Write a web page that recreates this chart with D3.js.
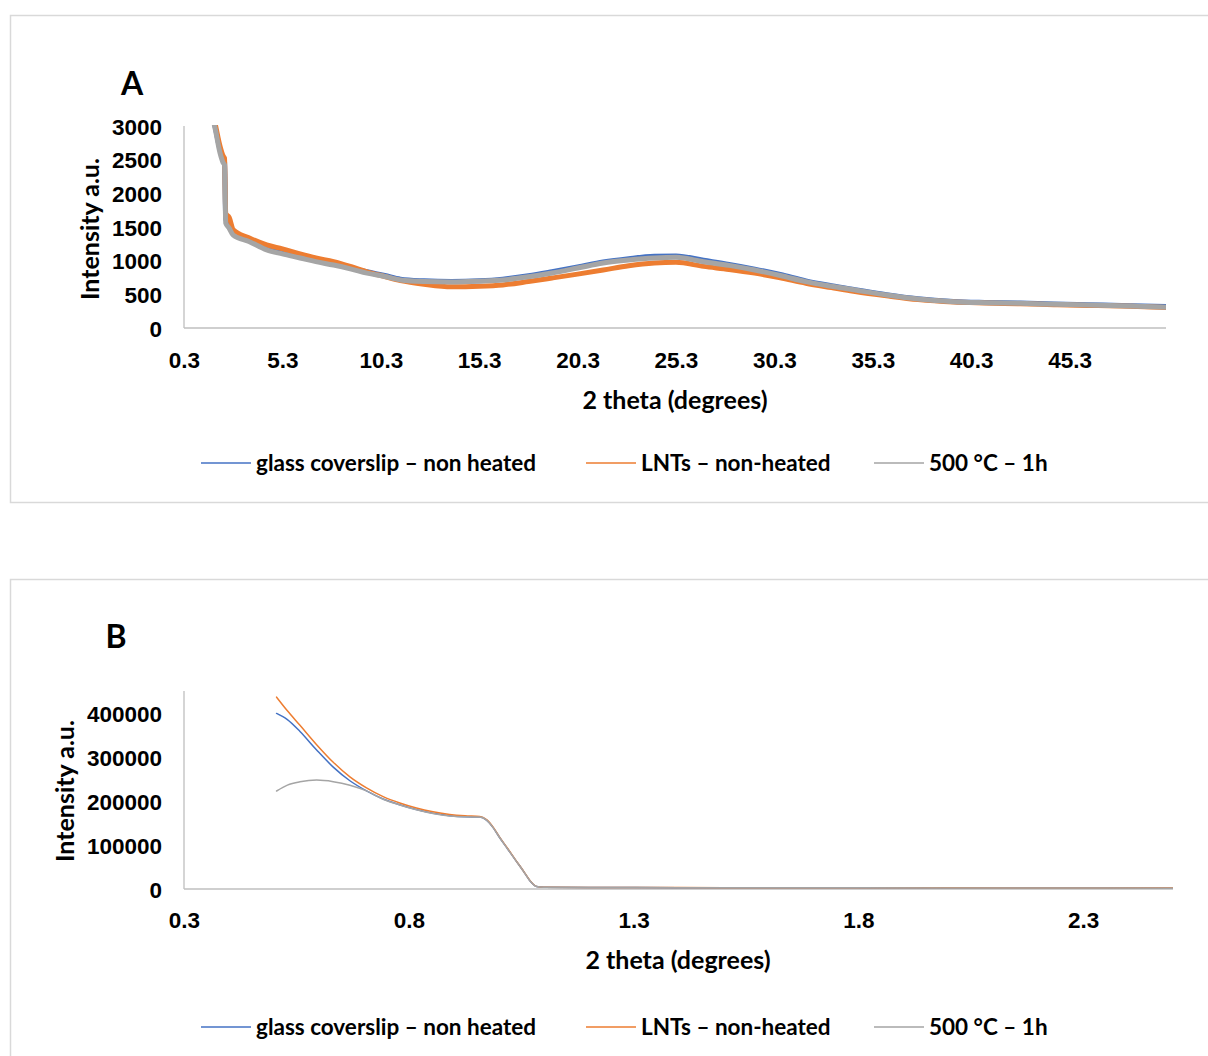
<!DOCTYPE html>
<html>
<head>
<meta charset="utf-8">
<script src="https://cdn.jsdelivr.net/npm/d3@7"></script>
<style>
  html, body { margin: 0; padding: 0; background: #fff; }
  svg { display: block; font-family: Lato, "Open Sans", sans-serif; font-weight: 700; }
</style>
</head>
<body>
<svg id="chart" width="1208" height="1056"></svg>
<script>
// ---- series shared by both panels ----
const seriesNames = ["glass coverslip \u2013 non heated", "LNTs \u2013 non-heated", "500 \u00B0C \u2013 1h"];
const seriesColors = ["#4472C4", "#ED7D31", "#A5A5A5"];

// ---- Panel A: wide-angle scan ----
const thetaA = [0.3, 1.5, 1.87, 2.13, 2.28, 2.36, 2.42, 2.6, 2.8, 3.6, 4.5, 5.3, 6.2, 7.0, 7.9, 8.8, 9.6, 10.5, 11.3,
  12.5, 13.9, 15.3, 16.5, 17.8, 19.0, 20.3, 21.6, 22.9, 24.2, 25.3, 26.7, 28.0, 29.3, 30.6, 31.9, 33.2, 34.4,
  36.0, 37.6, 39.4, 41.0, 42.8, 44.5, 46.2, 48.4, 50.2];
const glassA = [3800, 3400, 3000, 2650, 2520, 2470, 1620, 1540, 1420, 1320, 1200, 1130, 1060, 1010, 950, 890, 835, 780, 725,
  700, 690, 700, 725, 775, 835, 905, 980, 1030, 1065, 1070, 1005, 945, 875, 795, 700, 628, 570,
  495, 435, 395, 380, 370, 358, 346, 332, 318];
const lntA = [3800, 3450, 3050, 2700, 2560, 2520, 1700, 1640, 1460, 1340, 1235, 1175, 1100, 1040, 985, 910, 835, 765, 705,
  650, 612, 620, 640, 690, 742, 800, 861, 925, 965, 975, 915, 870, 815, 745, 665, 600, 542,
  478, 422, 386, 372, 360, 347, 336, 322, 305];
const heatedA = [3800, 3380, 2980, 2600, 2460, 2420, 1560, 1480, 1380, 1285, 1160, 1100, 1040, 985, 935, 875, 815, 765, 713,
  690, 683, 695, 713, 760, 817, 890, 965, 1010, 1040, 1050, 985, 930, 861, 780, 688, 620, 564,
  490, 430, 391, 376, 366, 352, 341, 326, 310];
const xTicksA = [0.3, 5.3, 10.3, 15.3, 20.3, 25.3, 30.3, 35.3, 40.3, 45.3];
const yTicksA = [0, 500, 1000, 1500, 2000, 2500, 3000];

// ---- Panel B: low-angle scan ----
const thetaB = [0.506, 0.53, 0.558, 0.595, 0.632, 0.669, 0.706, 0.743, 0.78, 0.817, 0.854, 0.891, 0.925, 0.958, 0.973,
  0.988, 1.002, 1.02, 1.039, 1.055, 1.069, 1.084, 1.1, 1.2, 1.4, 1.6, 1.8, 2.0, 2.2, 2.5];
const glassB = [399000, 385000, 358000, 316000, 277000, 246000, 223000, 204500, 191500, 180500, 172000, 166500, 164000, 163500, 156500,
  139000, 117000, 91000, 63500, 40500, 19500, 5800, 3900, 3400, 3100, 2900, 2700, 2500, 2300, 1900];
const lntB = [436000, 405000, 372000, 328000, 288000, 255000, 230000, 210000, 195500, 184000, 175500, 169500, 166500, 165000, 157500,
  140000, 118000, 92000, 64000, 41000, 20000, 6000, 4000, 3500, 3200, 3000, 2800, 2600, 2400, 2000];
const heatedB = [222700, 236000, 243500, 247500, 244000, 236000, 223000, 204000, 191000, 180000, 171500, 166000, 164000, 163500, 156500,
  139000, 117000, 91000, 63500, 40500, 19500, 5800, 3900, 3400, 3100, 2900, 2700, 2500, 2300, 1900];
const xTicksB = [0.3, 0.8, 1.3, 1.8, 2.3];
const yTicksB = [0, 100000, 200000, 300000, 400000];

const svg = d3.select("#chart");
const LABEL_SIZE = 22.5;
const TITLE_SIZE = 25;

function drawPanel(cfg) {
  const g = svg.append("g");

  // chart-area frame
  g.append("rect")
    .attr("x", 10.5).attr("y", cfg.frameTop + 0.5)
    .attr("width", 1230).attr("height", cfg.frameBottom - cfg.frameTop)
    .attr("fill", "none").attr("stroke", "#D9D9D9").attr("stroke-width", 1.5);

  const x = d3.scaleLinear().domain(cfg.xDomain).range([cfg.left, cfg.right]);
  const y = d3.scaleLinear().domain(cfg.yDomain).range([cfg.bottom, cfg.top]);

  // panel letter
  g.append("text").attr("x", cfg.letterX).attr("y", cfg.letterY)
    .attr("text-anchor", "middle").attr("font-size", 32).attr("fill", "#000")
    .text(cfg.letter);

  // y tick labels
  const yAxis = d3.axisLeft(y).tickValues(cfg.yTicks).tickSize(0).tickPadding(0).tickFormat(d3.format("d"));
  const ya = g.append("g").attr("transform", `translate(${cfg.yLabelX},0)`).call(yAxis);
  ya.select(".domain").remove();
  ya.selectAll("text").attr("font-size", LABEL_SIZE).attr("font-family", null).attr("fill", "#000").attr("dy", "0.36em");

  // x tick labels
  const xAxis = d3.axisBottom(x).tickValues(cfg.xTicks).tickSize(0).tickPadding(0).tickFormat(d3.format(".1f"));
  const xa = g.append("g").attr("transform", `translate(0,${cfg.xLabelY})`).call(xAxis);
  xa.select(".domain").remove();
  xa.selectAll("text").attr("font-size", LABEL_SIZE).attr("font-family", null).attr("fill", "#000").attr("dy", "0.36em").attr("y", 0);

  // axis lines
  g.append("line").attr("x1", cfg.left).attr("x2", cfg.left).attr("y1", cfg.top).attr("y2", cfg.bottom)
    .attr("stroke", "#BFBFBF").attr("stroke-width", 1.3);
  g.append("line").attr("x1", cfg.left).attr("x2", cfg.right).attr("y1", cfg.bottom).attr("y2", cfg.bottom)
    .attr("stroke", "#BFBFBF").attr("stroke-width", 1.3);

  // axis titles
  g.append("text").attr("transform", `translate(${cfg.yTitleX},${(cfg.top + cfg.bottom) / 2 + cfg.yTitleShift}) rotate(-90)`)
    .attr("text-anchor", "middle").attr("dy", "0.36em").attr("font-size", TITLE_SIZE).attr("fill", "#000")
    .text("Intensity a.u.");
  g.append("text").attr("x", cfg.xTitleX).attr("y", cfg.xTitleY)
    .attr("text-anchor", "middle").attr("dy", "0.36em").attr("font-size", TITLE_SIZE).attr("fill", "#000")
    .text("2 theta (degrees)");

  // data lines, clipped to the plot area
  const clipId = "clip" + cfg.letter;
  g.append("clipPath").attr("id", clipId).append("rect")
    .attr("x", cfg.left).attr("y", cfg.top - 1)
    .attr("width", cfg.right - cfg.left).attr("height", cfg.bottom - cfg.top + 2);

  const line = d3.line().x(d => x(d[0])).y(d => y(d[1])).curve(d3.curveMonotoneX);
  const plot = g.append("g").attr("clip-path", `url(#${clipId})`);
  cfg.series.forEach((vals, i) => {
    const pts = cfg.theta.map((t, k) => [t, vals[k]]);
    plot.append("path").attr("d", line(pts))
      .attr("fill", "none").attr("stroke", seriesColors[i])
      .attr("stroke-width", cfg.strokes[i])
      .attr("stroke-linejoin", "round").attr("stroke-linecap", "round");
  });

  // legend
  const lg = g.append("g").attr("transform", `translate(0,${cfg.legendY})`);
  const legendStarts = [201, 586, 874];
  seriesNames.forEach((name, i) => {
    const x0 = legendStarts[i];
    lg.append("line").attr("x1", x0).attr("x2", x0 + 50).attr("y1", 0).attr("y2", 0)
      .attr("stroke", seriesColors[i]).attr("stroke-width", 1.5);
    lg.append("text").attr("x", x0 + 55).attr("y", 0).attr("dy", "0.36em")
      .attr("font-size", LABEL_SIZE).attr("fill", "#000").text(name);
  });
}

drawPanel({
  letter: "A", letterX: 132, letterY: 95,
  frameTop: 15, frameBottom: 502,
  left: 184, right: 1166, top: 126, bottom: 328,
  xDomain: [0.3, 50.2], yDomain: [0, 3000],
  xTicks: xTicksA, yTicks: yTicksA,
  yLabelX: 162, xLabelY: 360,
  yTitleX: 90, yTitleShift: 2, xTitleX: 675, xTitleY: 400,
  theta: thetaA, series: [glassA, lntA, heatedA], strokes: [5, 5, 5],
  legendY: 463
});

drawPanel({
  letter: "B", letterX: 116, letterY: 648,
  frameTop: 579, frameBottom: 1100,
  left: 184, right: 1173, top: 691, bottom: 889,
  xDomain: [0.3, 2.5], yDomain: [0, 450000],
  xTicks: xTicksB, yTicks: yTicksB,
  yLabelX: 162, xLabelY: 920,
  yTitleX: 65, yTitleShift: 1, xTitleX: 678, xTitleY: 960,
  theta: thetaB, series: [glassB, lntB, heatedB], strokes: [1.5, 1.5, 1.5],
  legendY: 1027
});
</script>
</body>
</html>
